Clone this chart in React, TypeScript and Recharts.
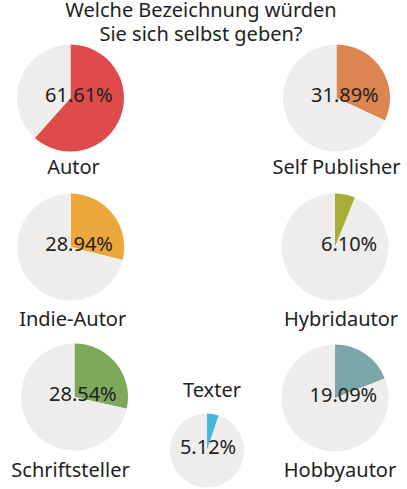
import React from 'react';
import { PieChart, Pie, Cell } from 'recharts';

const titleLines = ['Welche Bezeichnung würden', 'Sie sich selbst geben?'];
const categories = ['Autor', 'Self Publisher', 'Indie-Autor', 'Hybridautor', 'Schriftsteller', 'Texter', 'Hobbyautor'];
const shares = [61.61, 31.89, 28.94, 6.1, 28.54, 5.12, 19.09];
const colors = ['#DF4B4B', '#DC8550', '#ECA73A', '#A8AD35', '#7EA95B', '#46B5DA', '#7BA7AB'];
const restColor = '#EEEDEB';

// layout per pie: center, radius, label offsets
const layout = [
  { cx: 70.5, cy: 98, r: 53.5, lx: 3, ly: 76 },
  { cx: 336.5, cy: 98, r: 53.5, lx: 0, ly: 76 },
  { cx: 70.7, cy: 247, r: 53.5, lx: 2, ly: 79 },
  { cx: 335, cy: 247, r: 53.5, lx: 6, ly: 79 },
  { cx: 74.5, cy: 397, r: 53.5, lx: -4, ly: 80 },
  { cx: 207, cy: 450.5, r: 37, lx: 5, ly: -53.5 },
  { cx: 335, cy: 398, r: 53.5, lx: 5, ly: 79 },
];

const FONT = '"Noto Sans", "Open Sans", sans-serif';
const TEXT = '#222222';

const W = 407;
const H = 489;

export default function App() {
  return (
    <div style={{ position: 'absolute', left: 0, top: 0, width: W, height: H, background: '#fff' }}>
      <PieChart width={W} height={H} margin={{ top: 0, right: 0, bottom: 0, left: 0 }}>
        {categories.map((cat, i) => {
          const L = layout[i];
          const data = [
            { name: cat, value: shares[i] },
            { name: 'Rest', value: 100 - shares[i] },
          ];
          const renderLabel = (p: any) => {
            if (p.index !== 0) return null;
            const cx = Number(p.cx);
            const cy = Number(p.cy);
            const r = Number(p.outerRadius);
            return (
              <g>
                <text
                  x={cx + r * 0.79}
                  y={cy + 3.5}
                  textAnchor="end"
                  fontFamily={FONT}
                  fontSize={20}
                  fill={TEXT}
                >
                  {shares[i].toFixed(2) + '%'}
                </text>
                <text
                  x={cx + L.lx}
                  y={cy + L.ly}
                  textAnchor="middle"
                  fontFamily={FONT}
                  fontSize={20}
                  fill={TEXT}
                >
                  {cat}
                </text>
              </g>
            );
          };
          return (
            <Pie
              key={cat}
              data={data}
              dataKey="value"
              nameKey="name"
              cx={L.cx}
              cy={L.cy}
              innerRadius={0}
              outerRadius={L.r}
              startAngle={90}
              endAngle={-270}
              isAnimationActive={false}
              stroke="none"
              label={renderLabel}
              labelLine={false}
            >
              <Cell fill={colors[i]} stroke="none" />
              <Cell fill={restColor} stroke="none" />
            </Pie>
          );
        })}
        <text x={201} y={17} textAnchor="middle" fontFamily={FONT} fontSize={20} fill={TEXT}>
          {titleLines[0]}
        </text>
        <text x={201} y={41} textAnchor="middle" fontFamily={FONT} fontSize={20} fill={TEXT}>
          {titleLines[1]}
        </text>
      </PieChart>
    </div>
  );
}
